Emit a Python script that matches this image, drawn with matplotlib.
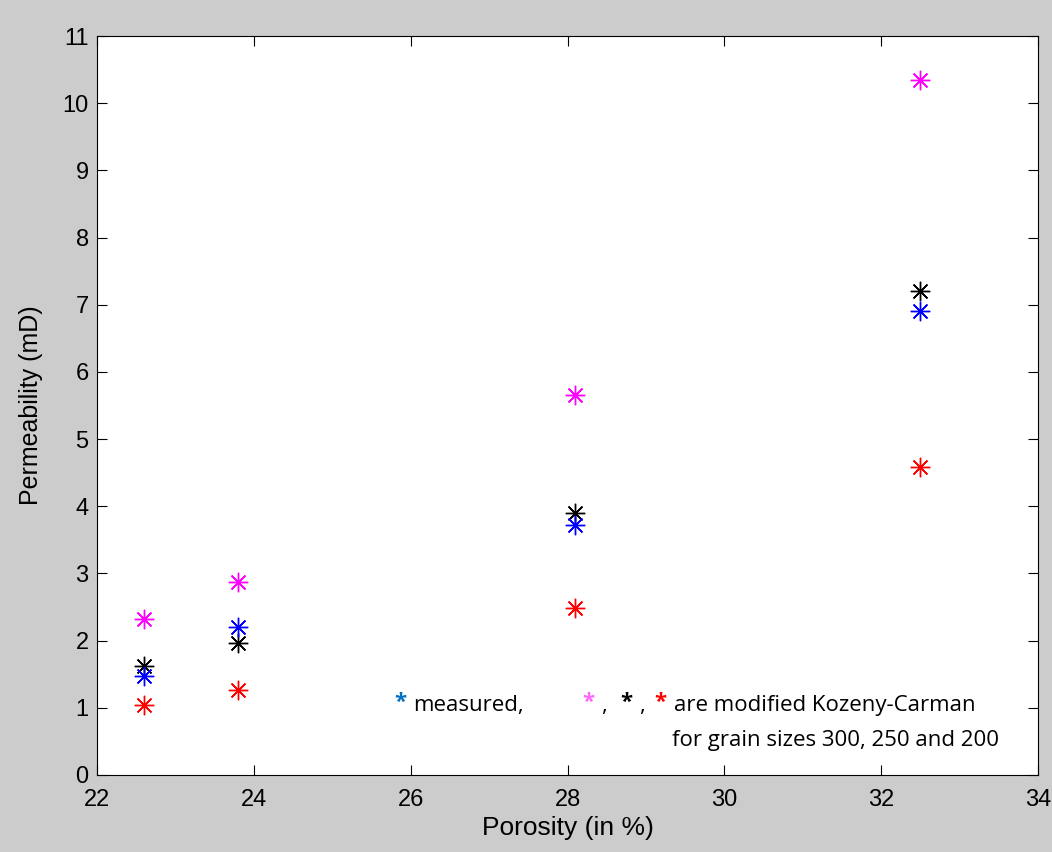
import matplotlib
matplotlib.use("Agg")
import matplotlib.pyplot as plt

# porosity (%) of the four samples
porosity = [22.6, 23.8, 28.1, 32.5]
# permeability (mD)
measured = [1.48, 2.20, 3.72, 6.90]
kc_300 = [2.32, 2.87, 5.65, 10.35]
kc_250 = [1.62, 1.97, 3.90, 7.20]
kc_200 = [1.04, 1.26, 2.49, 4.58]

fig = plt.figure(figsize=(10.52, 8.52), dpi=100, facecolor='#cccccc')
ax = fig.add_axes([0.0922, 0.0904, 0.8945, 0.8673])

star = (8, 2, 0)  # matlab style asterisk
for vals, col in [(kc_300, '#ff00ff'), (kc_250, 'black'), (measured, '#0000ff'), (kc_200, '#ff0000')]:
    ax.plot(porosity, vals, linestyle='none', marker=star, markersize=14,
            markeredgewidth=1.0, color=col)

ax.set_xlim(22, 34)
ax.set_ylim(0, 11)
ax.set_xticks(range(22, 35, 2))
ax.set_yticks(range(0, 12))
ax.tick_params(direction='in', top=True, right=True, length=7, labelsize=17)
ax.tick_params(axis='x', pad=10)
ax.tick_params(axis='y', pad=6)
for lbl in ax.get_xticklabels() + ax.get_yticklabels():
    lbl.set_family('Liberation Sans')
ax.set_xlabel('Porosity (in %)', fontsize=19, family='Liberation Sans', labelpad=4)
ax.set_ylabel('Permeability (mD)', fontsize=18, family='Liberation Sans', labelpad=14)

# annotation text
tf = dict(fontsize=16, family='Open Sans', va='center')
ax.text(25.865, 1.08, '*', color='#0070c0', fontweight='bold', ha='center', **tf)
ax.text(26.03, 1.04, 'measured,', color='black', ha='left', **tf)
ax.text(28.26, 1.08, '*', color='#ff66ff', fontweight='bold', ha='center', **tf)
ax.text(28.47, 1.04, ',', color='black', ha='center', **tf)
ax.text(28.75, 1.08, '*', color='black', fontweight='bold', ha='center', **tf)
ax.text(28.95, 1.04, ',', color='black', ha='center', **tf)
ax.text(29.18, 1.08, '*', color='#ff0000', fontweight='bold', ha='center', **tf)
ax.text(29.36, 1.04, 'are modified Kozeny-Carman', color='black', ha='left', **tf)
ax.text(29.33, 0.52, 'for grain sizes 300, 250 and 200', color='black', ha='left', **tf)

fig.savefig('out.png', dpi=100, facecolor=fig.get_facecolor())
